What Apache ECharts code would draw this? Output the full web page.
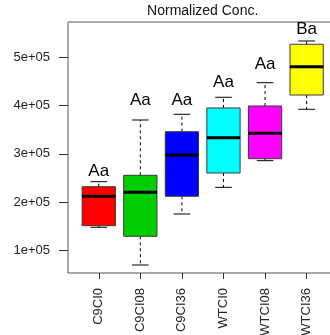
<!DOCTYPE html>
<html>
<head>
<meta charset="utf-8">
<script src="https://cdn.jsdelivr.net/npm/echarts@6/dist/echarts.min.js"></script>
<style>
  html, body { margin: 0; padding: 0; width: 330px; height: 335px; overflow: hidden; background: #fff; }
  #chart { width: 338px; height: 335px; }
</style>
</head>
<body>
<div id="chart"></div>
<script>
// Groups along the x axis
const categories = ['C9CI0', 'C9CI08', 'C9CI36', 'WTCI0', 'WTCI08', 'WTCI36'];
// Five-number summaries per group
const whiskerLow = [148300, 70400, 175700, 230800, 285800, 391900];
const quartile1  = [151600, 129700, 212300, 260400, 289900, 421400];
const medians    = [212300, 220500, 297500, 333300, 342300, 479900];
const quartile3  = [232100, 255600, 345600, 394600, 398700, 526100];
const whiskerHigh = [242400, 369800, 381600, 416700, 446800, 532900];
// Significance letters and the height at which each one sits
const letters = ['Aa', 'Aa', 'Aa', 'Aa', 'Aa', 'Ba'];
const letterY = [264000, 410000, 410000, 447200, 485400, 557700];
// Fill colours per group
const boxColors = ['#FF0000', '#00CD00', '#0000FF', '#00FFFF', '#FF00FF', '#FFFF00'];
// Y tick values
const yTicks = [100000, 200000, 300000, 400000, 500000];
const xTicks = categories.map((_, i) => i + 1);

const boxData = categories.map((c, i) => [
  i + 1, whiskerLow[i], quartile1[i], medians[i], quartile3[i], whiskerHigh[i], i
]);

function renderBox(params, api) {
  const x = api.value(0);
  const idx = api.value(6);
  const half = api.size([0.8, 0])[0] / 2;
  const capHalf = half / 2;
  const pLow = api.coord([x, api.value(1)]);
  const pQ1 = api.coord([x, api.value(2)]);
  const pMed = api.coord([x, api.value(3)]);
  const pQ3 = api.coord([x, api.value(4)]);
  const pHigh = api.coord([x, api.value(5)]);
  const pLab = api.coord([x, letterY[idx]]);
  const cx = pMed[0];
  const dash = { stroke: '#000', lineWidth: 1, lineDash: [3, 3] };
  const solid = { stroke: '#000', lineWidth: 1 };
  return {
    type: 'group',
    children: [
      { type: 'line', shape: { x1: cx, y1: pQ3[1], x2: cx, y2: pHigh[1] }, style: dash },
      { type: 'line', shape: { x1: cx, y1: pQ1[1], x2: cx, y2: pLow[1] }, style: dash },
      { type: 'line', shape: { x1: cx - capHalf, y1: pHigh[1], x2: cx + capHalf, y2: pHigh[1] }, style: solid },
      { type: 'line', shape: { x1: cx - capHalf, y1: pLow[1], x2: cx + capHalf, y2: pLow[1] }, style: solid },
      {
        type: 'rect',
        shape: { x: cx - half, y: pQ3[1], width: half * 2, height: pQ1[1] - pQ3[1] },
        style: { fill: boxColors[idx], stroke: '#3a3a3a', lineWidth: 1 }
      },
      { type: 'line', shape: { x1: cx - half, y1: pMed[1], x2: cx + half, y2: pMed[1] }, style: { stroke: '#000', lineWidth: 3 } },
      {
        type: 'text',
        x: cx, y: pLab[1],
        style: {
          text: letters[idx], fill: '#000', align: 'center', verticalAlign: 'middle',
          font: '17px "Liberation Sans", Arial, sans-serif'
        }
      }
    ]
  };
}

const chart = echarts.init(document.getElementById('chart'), null, { renderer: 'canvas' });
chart.setOption({
  animation: false,
  backgroundColor: '#fff',
  textStyle: { fontFamily: '"Liberation Sans", Arial, sans-serif' },
  graphic: [{
    type: 'text',
    x: 202.7, y: 11.5,
    style: {
      text: 'Normalized Conc.', fill: '#111', align: 'center', verticalAlign: 'middle',
      font: '14px "Liberation Sans", Arial, sans-serif'
    }
  }],
  grid: {
    left: 68, right: 0.6, top: 22, bottom: 62,
    containLabel: false, outerBoundsMode: 'none',
    show: true, borderColor: '#555', borderWidth: 1, backgroundColor: 'transparent'
  },
  xAxis: {
    type: 'value', min: 0.26, max: 6.74,
    splitLine: { show: false },
    axisLine: { show: false },
    axisTick: { show: true, length: 6, inside: false, customValues: xTicks, lineStyle: { color: '#333' } },
    axisLabel: {
      customValues: xTicks, rotate: 90, margin: 15, color: '#222', fontSize: 13,
      formatter: v => categories[Math.round(v) - 1] || ''
    }
  },
  yAxis: {
    type: 'value', min: 53900, max: 572100,
    splitLine: { show: false },
    axisLine: { show: false },
    axisTick: { show: true, length: 9, inside: false, customValues: yTicks, lineStyle: { color: '#333' } },
    axisLabel: {
      customValues: yTicks, margin: 18, color: '#222', fontSize: 13,
      formatter: v => Math.round(v / 100000) + 'e+05'
    }
  },
  series: [{
    type: 'custom',
    renderItem: renderBox,
    data: boxData,
    encode: { x: 0, y: [1, 5] },
    clip: false
  }]
});
</script>
</body>
</html>
